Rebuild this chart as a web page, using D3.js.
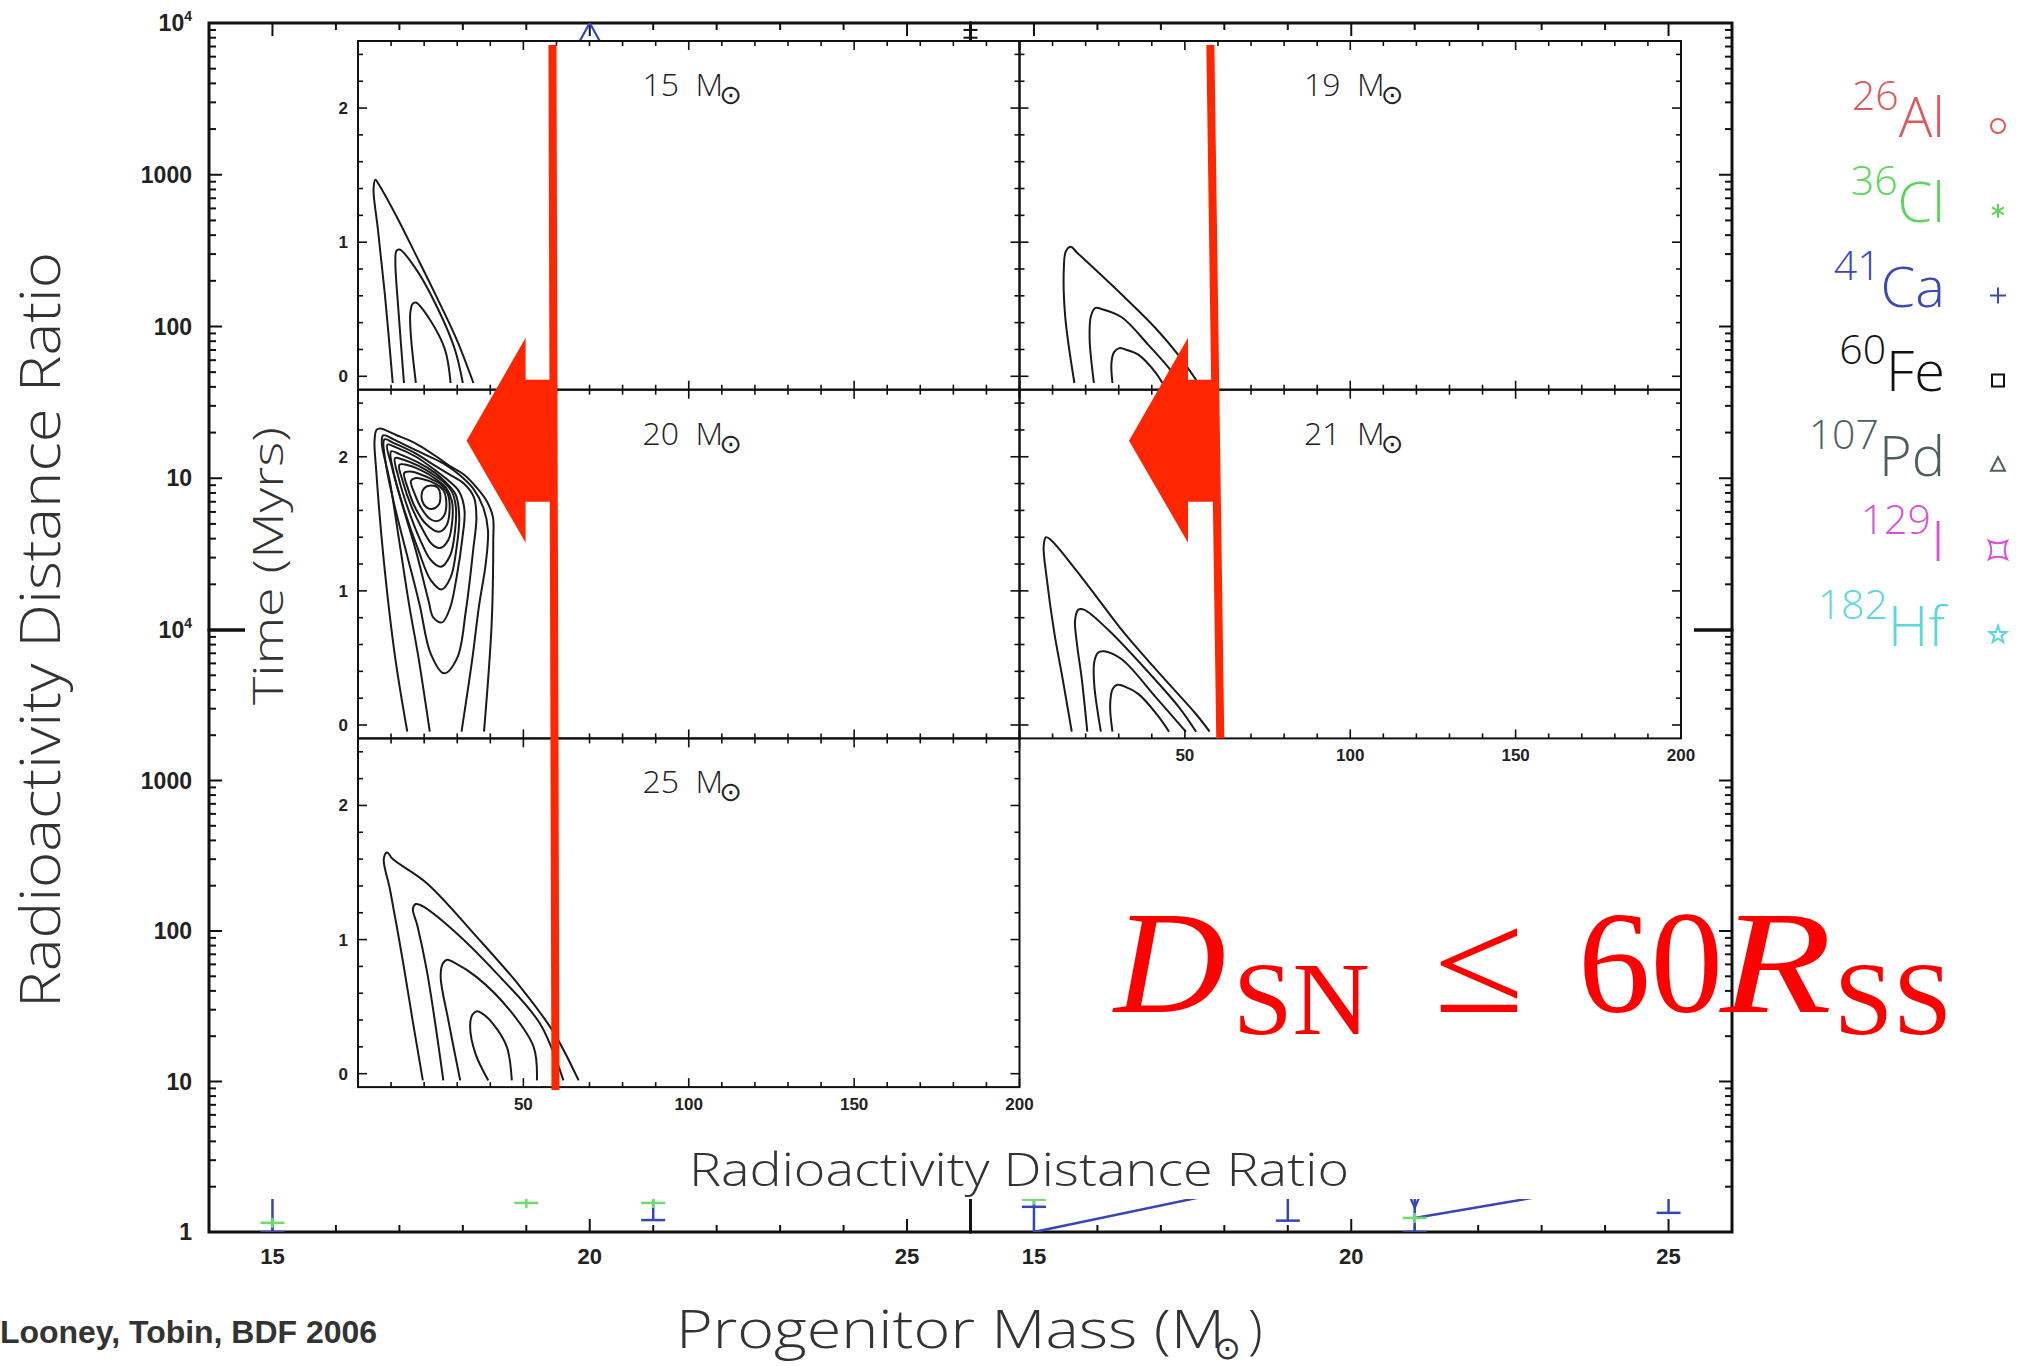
<!DOCTYPE html>
<html><head>
<meta charset="utf-8">
<title>Radioactivity distance ratio</title>
<script src="https://d3js.org/d3.v7.min.js"></script>
<style>
  body { margin: 0; background: #fff; }
  svg { display: block; }
</style>
</head>
<body>
<div id="chart"></div>
<script>

// ---------- background plot (log ratio vs progenitor mass) ----------
var massLabels = [15, 20, 25];
var massMinor = d3.range(14, 27);
var ratioDecades = [1, 10, 100, 1000, 10000];

var caLeftMass = [15, 21];
var caLeftVal = [1.0, 1.2];
var caLeftLow = [1.0, 1.2];
var caLeftHigh = [30, 30];
var clLeftMass = [15, 19, 21];
var clLeftVal = [1.15, 1.56, 1.56];

var caRightMass = [15, 19, 21, 25];
var caRightVal = [1.47, 1.19, 1.0, 1.34];
var caRightLow = [1.0, 1.19, 1.0, 1.34];
var caRightHigh = [30, 30, 30, 30];
var caRightLineA = [[15, 1.0], [19, 2.25]];
var caRightLineB = [[21, 1.24], [25, 2.4]];
var clRightMass = [15, 21];
var clRightVal = [1.64, 1.24];

var caTopMass = [20];
var caTopVal = [10000];

// ---------- inset contour panels (time vs distance ratio) ----------
var panelLabels = ["15", "19", "20", "21", "25"];
var panelCol = [0, 1, 0, 1, 0];
var panelRow = [0, 0, 1, 1, 2];
var ratioLabels = [50, 100, 150, 200];
var timeLabels = [0, 1, 2];

var contours15 = [
  [[10.5,-0.05],[8.2,0.59],[6.0,1.1],[4.7,1.40],[5.3,1.465],[6.3,1.43],[11.7,1.19],[17.8,0.89],[23.8,0.59],[29.9,0.27],[34.9,-0.05]],
  [[13.9,-0.05],[12.2,0.5],[11.3,0.85],[11.6,0.935],[12.6,0.945],[17.8,0.79],[24.8,0.47],[29.3,0.2],[31.7,-0.05]],
  [[17.5,-0.05],[16.0,0.3],[15.8,0.47],[16.5,0.54],[17.5,0.55],[21.8,0.42],[26.3,0.2],[28,-0.05]]
];
var contours19 = [
  [[16.6,-0.05],[13.8,0.45],[13.4,0.8],[14.0,0.93],[15.5,0.965],[17.5,0.92],[30.9,0.61],[41.1,0.36],[48.3,0.15],[54,-0.05]],
  [[22.5,-0.05],[21.2,0.28],[21.6,0.45],[23,0.51],[25,0.5],[30.9,0.44],[39.1,0.23],[45.2,0.06],[48.3,-0.05]],
  [[28.1,-0.05],[27.8,0.1],[28.6,0.18],[30.2,0.21],[32,0.2],[36,0.16],[41.1,0.03],[43.2,-0.05]]
];
var contours20 = [
  [[14.9,-0.05],[11.2,0.51],[7.7,1.25],[5.5,1.9],[5.0,2.12],[5.6,2.2],[6.7,2.21],[11.7,2.16],[15.7,2.12],[18.8,2.08],[23.8,2.0],[27.8,1.93],[31.9,1.87],[35.9,1.77],[38.9,1.67],[40.8,1.55],[40.9,1.38],[40.4,0.75],[38.1,-0.05]],
  [[21.7,-0.05],[18.3,0.5],[15.5,0.89],[12.6,1.35],[9.6,1.82],[7.2,2.1],[7.6,2.16],[10.7,2.13],[15.7,2.07],[20.8,2.01],[25.8,1.95],[30.9,1.86],[34.9,1.76],[37.9,1.62],[39.3,1.45],[38.6,1.2],[36.6,0.89],[34.6,0.5],[31.3,-0.05]]
];
var contours20Closed = [
  [[26,0.385],[30,0.5],[32.6,0.85],[34.8,1.3],[35.8,1.55],[35,1.7],[32,1.8],[27.5,1.87],[23.5,1.93],[17,2.03],[11,2.1],[8,2.13],[8.4,1.95],[11.2,1.62],[14.8,1.27],[18.6,0.9],[22,0.53]],
  [[25.4,0.765],[27.8,0.87],[29.8,1.1],[31.6,1.4],[32.2,1.6],[30.6,1.74],[27,1.83],[23.3,1.9],[17.5,2.0],[11.5,2.07],[8.9,2.09],[10.2,1.93],[13.3,1.65],[17.5,1.3],[21.3,0.93],[22.8,0.8]],
  [[25.3,1.01],[28,1.1],[29.8,1.32],[30.6,1.56],[29.5,1.72],[26.5,1.81],[23.3,1.88],[18,1.96],[12.5,2.02],[10,2.04],[10.8,1.88],[14.3,1.58],[18.3,1.3],[22,1.08]],
  [[25.1,1.18],[27.8,1.26],[29.3,1.44],[29.6,1.62],[28.4,1.74],[26,1.81],[23.2,1.86],[18.5,1.93],[13.5,1.98],[11.2,1.99],[12.2,1.85],[15.3,1.6],[18.8,1.38],[22,1.23]],
  [[24.8,1.32],[27.3,1.38],[28.5,1.52],[28.4,1.67],[26.6,1.77],[23.2,1.84],[19,1.9],[14.6,1.94],[12.5,1.94],[13.5,1.82],[16.3,1.62],[19.5,1.46],[22.3,1.35]],
  [[24.4,1.44],[26.8,1.49],[27.7,1.61],[27.2,1.72],[25.2,1.79],[22.5,1.83],[18.8,1.87],[15.8,1.89],[14,1.88],[15,1.77],[17.5,1.61],[20.5,1.5]],
  [[23.8,1.52],[26,1.56],[26.7,1.66],[25.8,1.75],[23.3,1.8],[20,1.83],[17.2,1.84],[16,1.82],[17.2,1.72],[19.3,1.61],[21.6,1.54]],
  [[22,1.61],[24.2,1.635],[24.9,1.7],[24.1,1.77],[22,1.785],[20,1.765],[19.2,1.71],[19.9,1.645]]
];
var contours21 = [
  [[15.8,-0.05],[13,0.35],[10.5,0.69],[8.2,1.1],[7.3,1.33],[8,1.40],[9.5,1.38],[20.7,1.04],[30.9,0.71],[43.2,0.36],[53.4,0.08],[57.5,-0.05]],
  [[20.5,-0.05],[18.8,0.35],[17.4,0.6],[16.8,0.78],[17.8,0.86],[19.5,0.86],[26.8,0.71],[39.1,0.39],[48.3,0.13],[53.4,-0.05]],
  [[24.6,-0.05],[22.6,0.3],[22.6,0.47],[23.8,0.54],[25.5,0.55],[30.9,0.49],[41.1,0.21],[50.3,-0.05]],
  [[28.1,-0.05],[27.4,0.15],[28.2,0.27],[29.6,0.3],[31.5,0.29],[36,0.23],[42.1,0.06],[45.2,-0.05]]
];
var contours25 = [
  [[19.6,-0.05],[16.5,0.4],[13.7,0.82],[9.7,1.37],[7.8,1.6],[8.8,1.65],[10.5,1.6],[20.8,1.42],[35.9,1.02],[49,0.65],[59.1,0.31],[66.7,-0.05]],
  [[25.8,-0.05],[23.5,0.35],[20.8,0.77],[18,1.1],[16.6,1.23],[17.5,1.265],[19.5,1.25],[28.8,1.07],[43,0.72],[55.1,0.37],[62.1,-0.05]],
  [[30.9,-0.05],[27.3,0.4],[25.0,0.72],[25.6,0.82],[27,0.85],[29,0.83],[35.9,0.72],[46,0.47],[53.1,0.2],[54.1,-0.05]],
  [[39.4,-0.05],[35.5,0.15],[33.9,0.35],[34.6,0.44],[36,0.465],[37.5,0.45],[40.9,0.37],[45,0.2],[46.5,-0.05]]
];
var panelOpen = [contours15, contours19, contours20, contours21, contours25];
var panelClosed = [[], [], contours20Closed, [], []];

// cut-off line D_SN = 60 R_SS (ratio at top and bottom of the hand drawn line)
var cutTop = [58.8, 57.7];
var cutBottom = [59.7, 60.7];

// ---------- legend ----------
var isoMass = ["26", "36", "41", "60", "107", "129", "182"];
var isoElem = ["Al", "Cl", "Ca", "Fe", "Pd", "I", "Hf"];
var isoColor = ["#e0585c", "#5ad65a", "#3b48b5", "#111111", "#4e5f5f", "#d850d8", "#5cd8dc"];
var isoSymbol = ["circle", "asterisk", "plus", "square", "triangle", "concave", "star"];

var W = 2027, H = 1366;
var thinFont = "'Open Sans', 'Liberation Sans', sans-serif";
var red = "#ff2600";

var svg = d3.select("#chart").append("svg")
    .attr("width", W)
    .attr("height", H)
    .style("font-family", "'Liberation Sans', Arial, sans-serif");

svg.append("rect").attr("width", W).attr("height", H).attr("fill", "#fff");

function tick(g, x1, y1, x2, y2, w, col) {
  g.append("line")
    .attr("x1", x1).attr("y1", y1).attr("x2", x2).attr("y2", y2)
    .attr("stroke", col || "#111").attr("stroke-width", w);
}

// ===== outer plot =====
var outerL = 209, outerR = 1732, outerT = 23, outerB = 1232, outerMidY = 630;
var outerMidX = (outerL + outerR) / 2;
var massX = [
  d3.scaleLinear().domain([14, 26]).range([outerL, outerMidX]),
  d3.scaleLinear().domain([14, 26]).range([outerMidX, outerR])
];
var ratioY = [
  d3.scaleLog().domain([1, 1e4]).range([outerMidY, outerT]),
  d3.scaleLog().domain([1, 1e4]).range([outerB, outerMidY])
];

var logTicks = [];
ratioDecades.slice(0, 4).forEach(function(d) {
  for (var k = 1; k <= 9; k++) logTicks.push({v: d * k, major: k === 1});
});
logTicks.push({v: 1e4, major: true});

var outer = svg.append("g");
var defs = svg.append("defs");

for (var c = 0; c < 2; c++) {
  for (var r = 0; r < 2; r++) {
    var x = massX[c], y = ratioY[r];
    var x0 = x.range()[0], x1 = x.range()[1];
    var yb = y.range()[0], yt = y.range()[1];
    massMinor.forEach(function(m) {
      var len = massLabels.indexOf(m) >= 0 ? 13 : 7;
      tick(outer, x(m), yt, x(m), yt + len, 2);
      tick(outer, x(m), yb, x(m), yb - len, 2);
    });
    logTicks.forEach(function(t) {
      var len = t.major ? 13 : 7;
      tick(outer, x0, y(t.v), x0 + len, y(t.v), 2);
      tick(outer, x1, y(t.v), x1 - len, y(t.v), 2);
    });
    outer.append("rect")
      .attr("x", x0).attr("y", yt).attr("width", x1 - x0).attr("height", yb - yt)
      .attr("fill", "none").attr("stroke", "#111").attr("stroke-width", 3);
    defs.append("clipPath").attr("id", "oc" + c + r)
      .append("rect").attr("x", x0).attr("y", yt).attr("width", x1 - x0).attr("height", yb - yt);
  }
}

// outer tick labels
[0, 1].forEach(function(r) {
  var y = ratioY[r];
  ratioDecades.forEach(function(v) {
    if (r === 0 && v === 1) return;
    var t = outer.append("text")
      .attr("x", 192).attr("y", y(v) + 8)
      .attr("text-anchor", "end")
      .attr("font-size", 23).attr("font-weight", "bold").attr("fill", "#222");
    if (v === 1e4) {
      t.append("tspan").text("10");
      t.append("tspan").attr("font-size", 14).attr("dy", -10).text("4");
    } else {
      t.text(v);
    }
  });
});
[0, 1].forEach(function(c) {
  massLabels.forEach(function(m) {
    outer.append("text")
      .attr("x", massX[c](m)).attr("y", 1264)
      .attr("text-anchor", "middle")
      .attr("font-size", 22).attr("font-weight", "bold").attr("fill", "#222")
      .text(m);
  });
});

// outer data marks
var caBlue = "#3844b8", clGreen = "#6ddc6d";
function caBars(g, x, y, mass, val, lo, hi) {
  mass.forEach(function(m, i) {
    tick(g, x(m), y(lo[i]), x(m), y(hi[i]), 2.5, caBlue);
    tick(g, x(m) - 12, y(val[i]), x(m) + 12, y(val[i]), 2.5, caBlue);
  });
}
function clMarks(g, x, y, mass, val) {
  mass.forEach(function(m, i) {
    tick(g, x(m) - 12, y(val[i]), x(m) + 12, y(val[i]), 2.5, clGreen);
    tick(g, x(m), y(val[i]) - 5, x(m), y(val[i]) + 5, 2.5, clGreen);
  });
}
var gLeft = outer.append("g").attr("clip-path", "url(#oc01)");
caBars(gLeft, massX[0], ratioY[1], caLeftMass, caLeftVal, caLeftLow, caLeftHigh);
clMarks(gLeft, massX[0], ratioY[1], clLeftMass, clLeftVal);

var gRight = outer.append("g").attr("clip-path", "url(#oc11)");
var massLine = d3.line()
  .x(function(d) { return massX[1](d[0]); })
  .y(function(d) { return ratioY[1](d[1]); });
[caRightLineA, caRightLineB].forEach(function(seg) {
  gRight.append("path").datum(seg)
    .attr("fill", "none").attr("stroke", caBlue).attr("stroke-width", 2.5)
    .attr("d", massLine);
});
caBars(gRight, massX[1], ratioY[1], caRightMass, caRightVal, caRightLow, caRightHigh);
clMarks(gRight, massX[1], ratioY[1], clRightMass, clRightVal);
// small "v" above the 21 Msun bar
var vx = massX[1](21), vy = ratioY[1](1.45);
tick(gRight, vx - 6, vy - 14, vx, vy, 2.2, caBlue);
tick(gRight, vx + 6, vy - 14, vx, vy, 2.2, caBlue);

var gTop = outer.append("g").attr("clip-path", "url(#oc00)");
caTopMass.forEach(function(m, i) {
  var px = massX[0](m), py = ratioY[0](caTopVal[i]);
  tick(gTop, px - 10, py - 18, px + 10, py + 18, 2.2, caBlue);
  tick(gTop, px + 10, py - 18, px - 10, py + 18, 2.2, caBlue);
});

// white card holding the inset
svg.append("rect")
  .attr("x", 245).attr("y", 41).attr("width", 1694 - 245).attr("height", 1199 - 41)
  .attr("fill", "#fff");

// ===== inset =====
var insetLeft = 358, insetColW = 661.5, insetTop = 41, insetRowH = 348.7;
var inset = svg.append("g");
var cutScales = [];

panelLabels.forEach(function(lab, i) {
  var col = panelCol[i], row = panelRow[i];
  var x0 = insetLeft + col * insetColW, x1 = x0 + insetColW;
  var y0 = insetTop + row * insetRowH, y1 = y0 + insetRowH;
  var x = d3.scaleLinear().domain([0, 200]).range([x0, x1]);
  var y = d3.scaleLinear().domain([-0.1, 2.5]).range([y1, y0]);
  if (row === 0) cutScales[col] = x;
  var g = inset.append("g");

  var openLine = d3.line()
    .x(function(d) { return x(d[0]); })
    .y(function(d) { return y(d[1]); })
    .curve(d3.curveCatmullRom.alpha(0.5));
  var closedLine = d3.line()
    .x(function(d) { return x(d[0]); })
    .y(function(d) { return y(d[1]); })
    .curve(d3.curveCatmullRomClosed.alpha(0.5));

  panelOpen[i].forEach(function(cn) {
    g.append("path").attr("d", openLine(cn))
      .attr("fill", "none").attr("stroke", "#1a1a1a").attr("stroke-width", 2);
  });
  panelClosed[i].forEach(function(cn) {
    g.append("path").attr("d", closedLine(cn))
      .attr("fill", "none").attr("stroke", "#1a1a1a").attr("stroke-width", 2);
  });

  // ticks on all four sides, pointing in
  d3.range(0, 21).forEach(function(k) {
    var v = k * 10, len = (k % 5 === 0) ? 9 : 5;
    tick(g, x(v), y0, x(v), y0 + len, 1.6);
    tick(g, x(v), y1, x(v), y1 - len, 1.6);
  });
  d3.range(0, 13).forEach(function(k) {
    var v = k * 0.2, len = (k % 5 === 0) ? 9 : 5;
    tick(g, x0, y(v), x0 + len, y(v), 1.6);
    tick(g, x1, y(v), x1 - len, y(v), 1.6);
  });
  g.append("rect")
    .attr("x", x0).attr("y", y0).attr("width", x1 - x0).attr("height", y1 - y0)
    .attr("fill", "none").attr("stroke", "#111").attr("stroke-width", 2);

  if (col === 0) {
    timeLabels.forEach(function(t) {
      g.append("text")
        .attr("x", x0 - 10).attr("y", y(t) + 6)
        .attr("text-anchor", "end")
        .attr("font-size", 17).attr("font-weight", "bold").attr("fill", "#222")
        .text(t);
    });
  }
  if ((col === 0 && row === 2) || (col === 1 && row === 1)) {
    ratioLabels.forEach(function(v) {
      g.append("text")
        .attr("x", x(v)).attr("y", y1 + 23)
        .attr("text-anchor", "middle")
        .attr("font-size", 17).attr("font-weight", "bold").attr("fill", "#222")
        .text(v);
    });
  }

  // panel mass label
  var lx = x(86), ly = y0 + 55;
  g.append("text").attr("x", lx).attr("y", ly)
    .attr("font-family", thinFont).attr("font-weight", 300).attr("font-size", 32).attr("fill", "#222")
    .text(lab);
  g.append("text").attr("x", lx + 53).attr("y", ly)
    .attr("font-family", thinFont).attr("font-weight", 300).attr("font-size", 32).attr("fill", "#222")
    .text("M");
  g.append("text").attr("x", lx + 77).attr("y", ly + 8)
    .attr("font-family", "'DejaVu Sans', sans-serif").attr("font-size", 27).attr("fill", "#222")
    .text("\u2299");
});

// inset axis titles
inset.append("text")
  .attr("x", 689).attr("y", 1186)
  .attr("font-family", thinFont).attr("font-weight", 300).attr("font-size", 46).attr("fill", "#333")
  .attr("textLength", 660).attr("lengthAdjust", "spacingAndGlyphs")
  .text("Radioactivity Distance Ratio");
inset.append("text")
  .attr("transform", "translate(283,566) rotate(-90)")
  .attr("text-anchor", "middle")
  .attr("font-family", thinFont).attr("font-weight", 300).attr("font-size", 42).attr("fill", "#333")
  .attr("textLength", 278).attr("lengthAdjust", "spacingAndGlyphs")
  .text("Time (Myrs)");

// ===== red annotation: cut-off lines and arrows =====
var ann = svg.append("g");
var cutY0 = insetTop + 4;
var cutY1 = [insetTop + 3 * insetRowH + 3, insetTop + 2 * insetRowH];
var arrowY = insetTop + insetRowH + 51;
[0, 1].forEach(function(col) {
  var xs = cutScales[col];
  var xa = xs(cutTop[col]), xb = xs(cutBottom[col]);
  ann.append("line")
    .attr("x1", xa).attr("y1", cutY0).attr("x2", xb).attr("y2", cutY1[col])
    .attr("stroke", red).attr("stroke-width", 8);
  var lx = xa + (xb - xa) * (arrowY - cutY0) / (cutY1[col] - cutY0);
  var pts = [
    [lx - 87, arrowY], [lx - 28, arrowY - 103], [lx - 28, arrowY - 61], [lx, arrowY - 61],
    [lx, arrowY + 61], [lx - 28, arrowY + 61], [lx - 28, arrowY + 102]
  ];
  ann.append("polygon")
    .attr("points", pts.map(function(p) { return p.join(","); }).join(" "))
    .attr("fill", red);
});

// D_SN <= 60 R_SS
var serif = "'Liberation Serif', 'Times New Roman', serif";
var eq = svg.append("g").attr("fill", "#ff0000").attr("font-family", serif);
eq.append("text").attr("x", 1114).attr("y", 1012).attr("font-size", 146)
  .attr("font-style", "italic")
  .attr("textLength", 112).attr("lengthAdjust", "spacingAndGlyphs").text("D");
eq.append("text").attr("x", 1233).attr("y", 1034).attr("font-size", 104)
  .attr("textLength", 137).attr("lengthAdjust", "spacingAndGlyphs").text("SN");
eq.append("text").attr("x", 1434).attr("y", 1012).attr("font-size", 146)
  .attr("textLength", 90).attr("lengthAdjust", "spacingAndGlyphs").text("\u2264");
eq.append("text").attr("x", 1578).attr("y", 1012).attr("font-size", 146)
  .attr("textLength", 145).attr("lengthAdjust", "spacingAndGlyphs").text("60");
eq.append("text").attr("x", 1720).attr("y", 1012).attr("font-size", 146)
  .attr("font-style", "italic")
  .attr("textLength", 112).attr("lengthAdjust", "spacingAndGlyphs").text("R");
eq.append("text").attr("x", 1834).attr("y", 1034).attr("font-size", 104)
  .attr("textLength", 118).attr("lengthAdjust", "spacingAndGlyphs").text("SS");

// ===== legend =====
function symbolPath(kind) {
  switch (kind) {
    case "circle": return "M7,0A7,7 0 1,1 -7,0A7,7 0 1,1 7,0Z";
    case "asterisk": return "M0,-7L0,7M-6,-3.5L6,3.5M-6,3.5L6,-3.5";
    case "plus": return "M-8,0L8,0M0,-8L0,8";
    case "square": return "M-6,-6L6,-6L6,6L-6,6Z";
    case "triangle": return "M0,-8L7,5.5L-7,5.5Z";
    case "concave": return "M-9,-9Q0,-4.5 9,-9Q4.5,0 9,9Q0,4.5 -9,9Q-4.5,0 -9,-9Z";
    case "star":
      var s = "";
      for (var k = 0; k < 10; k++) {
        var a = -Math.PI / 2 + k * Math.PI / 5, rr = k % 2 ? 3.6 : 9;
        s += (k ? "L" : "M") + (rr * Math.cos(a)).toFixed(2) + "," + (rr * Math.sin(a)).toFixed(2);
      }
      return s + "Z";
  }
}
var legend = svg.append("g");
isoElem.forEach(function(el, i) {
  var by = 137 + i * 84.8;
  var t = legend.append("text")
    .attr("x", 1945).attr("y", by)
    .attr("text-anchor", "end")
    .attr("font-family", thinFont).attr("font-weight", 300)
    .attr("font-size", 56).attr("fill", isoColor[i]);
  t.append("tspan").attr("font-size", 41).attr("dy", -27).text(isoMass[i]);
  t.append("tspan").attr("dy", 27).text(el);
  legend.append("path")
    .attr("transform", "translate(1998," + (by - 11) + ")")
    .attr("d", symbolPath(isoSymbol[i]))
    .attr("fill", "none").attr("stroke", isoColor[i]).attr("stroke-width", 2);
});

// ===== outer axis titles and credit =====
svg.append("text")
  .attr("transform", "translate(60,630) rotate(-90)")
  .attr("text-anchor", "middle")
  .attr("font-family", thinFont).attr("font-weight", 300).attr("font-size", 56).attr("fill", "#333")
  .attr("textLength", 756).attr("lengthAdjust", "spacingAndGlyphs")
  .text("Radioactivity Distance Ratio");
svg.append("text")
  .attr("x", 676).attr("y", 1348)
  .attr("font-family", thinFont).attr("font-weight", 300).attr("font-size", 54).attr("fill", "#333")
  .attr("textLength", 549).attr("lengthAdjust", "spacingAndGlyphs")
  .text("Progenitor Mass (M");
svg.append("text")
  .attr("x", 1214).attr("y", 1359)
  .attr("font-family", "'DejaVu Sans', sans-serif").attr("font-size", 32).attr("fill", "#333")
  .text("\u2299");
svg.append("text")
  .attr("x", 1248).attr("y", 1348)
  .attr("font-family", thinFont).attr("font-weight", 300).attr("font-size", 54).attr("fill", "#333")
  .text(")");
svg.append("text")
  .attr("x", 0).attr("y", 1343)
  .attr("font-size", 31).attr("font-weight", "bold").attr("fill", "#333")
  .attr("textLength", 377).attr("lengthAdjust", "spacingAndGlyphs")
  .text("Looney, Tobin, BDF 2006");

</script>
</body></html>
